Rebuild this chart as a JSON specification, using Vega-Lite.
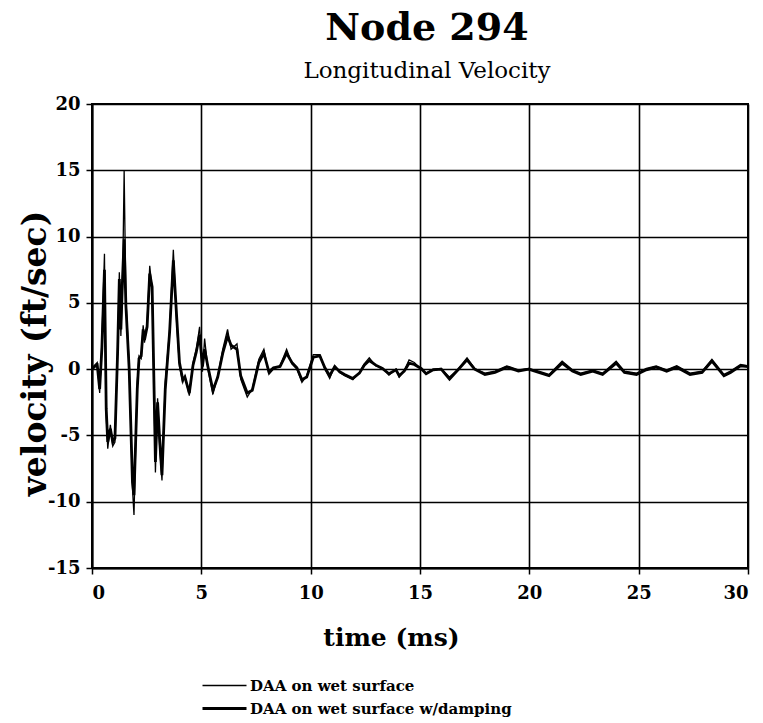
{
  "$schema": "https://vega.github.io/schema/vega-lite/v6.json",
  "width": 656,
  "height": 464,
  "autosize": {"type": "none"},
  "padding": {"left": 92, "top": 104, "right": 15, "bottom": 155},
  "background": "white",
  "title": {
    "text": "Node 294",
    "subtitle": "Longitudinal Velocity",
    "anchor": "middle",
    "dx": 7,
    "font": "DejaVu Serif",
    "fontSize": 38,
    "fontWeight": "bold",
    "color": "black",
    "subtitleFont": "DejaVu Serif",
    "subtitleFontSize": 23,
    "subtitleColor": "black",
    "subtitlePadding": 12,
    "offset": 12
  },
  "data": {
    "values": [
      {"t":0,"wet":0,"damp":0},
      {"t":0.12,"wet":0.3,"damp":0.2},
      {"t":0.24,"wet":0.5,"damp":0.3},
      {"t":0.35,"wet":-1.8,"damp":-1.5},
      {"t":0.45,"wet":2,"damp":1.5},
      {"t":0.57,"wet":8.7,"damp":7.5},
      {"t":0.65,"wet":-3.5,"damp":-3},
      {"t":0.72,"wet":-6,"damp":-5.5},
      {"t":0.84,"wet":-4.2,"damp":-4.5},
      {"t":0.95,"wet":-5.8,"damp":-5.5},
      {"t":1.05,"wet":-5.5,"damp":-5.2},
      {"t":1.17,"wet":1.5,"damp":1.2},
      {"t":1.25,"wet":7.3,"damp":6.8},
      {"t":1.32,"wet":2.5,"damp":3},
      {"t":1.4,"wet":6.5,"damp":7},
      {"t":1.47,"wet":15,"damp":9.8},
      {"t":1.55,"wet":5.3,"damp":4.8},
      {"t":1.7,"wet":0.3,"damp":0},
      {"t":1.85,"wet":-9,"damp":-8.5},
      {"t":1.92,"wet":-11,"damp":-9.5},
      {"t":2.07,"wet":-1,"damp":-1.5},
      {"t":2.15,"wet":1,"damp":0.8},
      {"t":2.25,"wet":0.8,"damp":1},
      {"t":2.34,"wet":3.3,"damp":3},
      {"t":2.4,"wet":2,"damp":2.2},
      {"t":2.52,"wet":3.5,"damp":3.2},
      {"t":2.64,"wet":7.8,"damp":7.2},
      {"t":2.75,"wet":6,"damp":6.2},
      {"t":2.85,"wet":-3,"damp":-2.5},
      {"t":2.9,"wet":-7.8,"damp":-7},
      {"t":3.0,"wet":-2.2,"damp":-2.5},
      {"t":3.1,"wet":-6,"damp":-5.5},
      {"t":3.2,"wet":-8.4,"damp":-8},
      {"t":3.35,"wet":-1,"damp":-1.5},
      {"t":3.55,"wet":3,"damp":2.8},
      {"t":3.72,"wet":9,"damp":8.2},
      {"t":3.87,"wet":3.5,"damp":4},
      {"t":4.0,"wet":0.2,"damp":0.5},
      {"t":4.15,"wet":-1,"damp":-0.8},
      {"t":4.25,"wet":-0.5,"damp":-0.6},
      {"t":4.45,"wet":-2,"damp":-1.8},
      {"t":4.62,"wet":0.5,"damp":0.3},
      {"t":4.77,"wet":1.5,"damp":1.3},
      {"t":4.92,"wet":3.2,"damp":2.6},
      {"t":5.05,"wet":-0.2,"damp":0.2},
      {"t":5.15,"wet":2.3,"damp":1.5},
      {"t":5.3,"wet":0,"damp":0.2},
      {"t":5.53,"wet":-1.9,"damp":-1.6},
      {"t":5.75,"wet":-0.5,"damp":-0.6},
      {"t":5.98,"wet":1.5,"damp":1.2},
      {"t":6.2,"wet":3,"damp":2.5},
      {"t":6.36,"wet":1.5,"damp":1.8},
      {"t":6.63,"wet":1.9,"damp":1.5},
      {"t":6.8,"wet":-0.75,"damp":-0.5},
      {"t":7.1,"wet":-2.1,"damp":-1.8},
      {"t":7.33,"wet":-1.5,"damp":-1.6},
      {"t":7.63,"wet":0.75,"damp":0.5},
      {"t":7.86,"wet":1.5,"damp":1.2},
      {"t":8.09,"wet":-0.4,"damp":-0.2},
      {"t":8.3,"wet":0,"damp":0.1},
      {"t":8.6,"wet":0.25,"damp":0.2},
      {"t":8.9,"wet":1.5,"damp":1.2},
      {"t":9.14,"wet":0.4,"damp":0.5},
      {"t":9.37,"wet":0,"damp":0.1},
      {"t":9.6,"wet":-1,"damp":-0.8},
      {"t":9.82,"wet":-0.5,"damp":-0.6},
      {"t":10.12,"wet":1.1,"damp":0.9},
      {"t":10.42,"wet":1.1,"damp":1},
      {"t":10.65,"wet":0,"damp":0.1},
      {"t":10.87,"wet":-0.7,"damp":-0.5},
      {"t":11.1,"wet":0.25,"damp":0.2},
      {"t":11.33,"wet":-0.25,"damp":-0.2},
      {"t":11.55,"wet":-0.5,"damp":-0.4},
      {"t":11.93,"wet":-0.8,"damp":-0.7},
      {"t":12.23,"wet":-0.25,"damp":-0.3},
      {"t":12.45,"wet":0.4,"damp":0.3},
      {"t":12.68,"wet":0.85,"damp":0.65},
      {"t":12.98,"wet":0.25,"damp":0.3},
      {"t":13.28,"wet":0.1,"damp":0.05},
      {"t":13.58,"wet":-0.45,"damp":-0.35},
      {"t":13.9,"wet":0,"damp":-0.05},
      {"t":14.05,"wet":-0.6,"damp":-0.5},
      {"t":14.28,"wet":-0.1,"damp":-0.15},
      {"t":14.5,"wet":0.7,"damp":0.45},
      {"t":14.74,"wet":0.5,"damp":0.35},
      {"t":15.05,"wet":0,"damp":0.05},
      {"t":15.28,"wet":-0.3,"damp":-0.35},
      {"t":15.6,"wet":0,"damp":-0.05},
      {"t":15.97,"wet":0.05,"damp":0},
      {"t":16.35,"wet":-0.6,"damp":-0.75},
      {"t":16.74,"wet":0,"damp":-0.05},
      {"t":17.15,"wet":0.85,"damp":0.7},
      {"t":17.5,"wet":0.05,"damp":0},
      {"t":17.97,"wet":-0.3,"damp":-0.4},
      {"t":18.43,"wet":-0.15,"damp":-0.25},
      {"t":18.97,"wet":0.25,"damp":0.15},
      {"t":19.5,"wet":-0.05,"damp":-0.15},
      {"t":19.97,"wet":0.05,"damp":0},
      {"t":20.43,"wet":-0.15,"damp":-0.25},
      {"t":20.9,"wet":-0.4,"damp":-0.5},
      {"t":21.5,"wet":0.6,"damp":0.45},
      {"t":21.97,"wet":-0.05,"damp":-0.15},
      {"t":22.35,"wet":-0.3,"damp":-0.4},
      {"t":22.9,"wet":-0.05,"damp":-0.15},
      {"t":23.35,"wet":-0.3,"damp":-0.4},
      {"t":23.97,"wet":0.6,"damp":0.45},
      {"t":24.35,"wet":-0.15,"damp":-0.25},
      {"t":24.9,"wet":-0.3,"damp":-0.4},
      {"t":25.35,"wet":0.05,"damp":-0.05},
      {"t":25.8,"wet":0.25,"damp":0.15},
      {"t":26.28,"wet":-0.05,"damp":-0.15},
      {"t":26.74,"wet":0.25,"damp":0.15},
      {"t":27.35,"wet":-0.3,"damp":-0.4},
      {"t":27.9,"wet":-0.15,"damp":-0.25},
      {"t":28.35,"wet":0.75,"damp":0.6},
      {"t":28.9,"wet":-0.4,"damp":-0.5},
      {"t":29.2,"wet":-0.15,"damp":-0.25},
      {"t":29.66,"wet":0.35,"damp":0.25},
      {"t":30,"wet":0.25,"damp":0.2}
    ]
  },
  "transform": [{"fold": ["damp", "wet"], "as": ["series", "v"]}],
  "mark": {"type": "line", "clip": true},
  "encoding": {
    "x": {
      "field": "t",
      "type": "quantitative",
      "scale": {"domain": [0, 30], "nice": false},
      "axis": {
        "values": [0, 5, 10, 15, 20, 25, 30],
        "title": "time (ms)",
        "titleX": 299,
        "titleAnchor": "middle",
        "titlePadding": 23,
        "titleFontSize": 25,
        "labelPadding": 10
      }
    },
    "y": {
      "field": "v",
      "type": "quantitative",
      "scale": {"domain": [-15, 20], "nice": false},
      "axis": {
        "values": [-15, -10, -5, 0, 5, 10, 15, 20],
        "title": "velocity (ft/sec)",
        "titleY": 249,
        "titleX": -40,
        "titleFontSize": 33,
        "labelPadding": 6,
        "labelExpr": "replace(datum.label, '\u2212', '-')"
      }
    },
    "color": {
      "field": "series",
      "type": "nominal",
      "scale": {"domain": ["wet", "damp"], "range": ["black", "black"]},
      "legend": {
        "title": null,
        "orient": "none",
        "legendX": 125,
        "legendY": 574,
        "symbolType": "M-4,0L4,0",
        "symbolSize": 121,
        "symbolStrokeColor": "black",
        "labelFont": "DejaVu Serif",
        "labelFontSize": 15,
        "labelFontWeight": "bold",
        "labelColor": "black",
        "labelLimit": 0,
        "labelOffset": 18,
        "rowPadding": 7,
        "labelExpr": "datum.value == 'wet' ? 'DAA on wet surface' : 'DAA on wet surface w/damping'"
      }
    },
    "strokeWidth": {
      "field": "series",
      "type": "nominal",
      "scale": {"domain": ["wet", "damp"], "range": [1.3, 2.8]}
    },
    "order": {"field": "t", "type": "quantitative"}
  },
  "config": {
    "view": {"stroke": "black", "strokeWidth": 2},
    "axis": {
      "domainColor": "black",
      "domainWidth": 2,
      "gridColor": "black",
      "gridWidth": 1.6,
      "gridOpacity": 1,
      "tickColor": "black",
      "tickWidth": 1.5,
      "tickSize": 6,
      "labelFont": "DejaVu Serif",
      "labelFontSize": 18,
      "labelFontWeight": "bold",
      "labelColor": "black",
      "titleFont": "DejaVu Serif",
      "titleFontWeight": "bold",
      "titleColor": "black"
    }
  }
}
